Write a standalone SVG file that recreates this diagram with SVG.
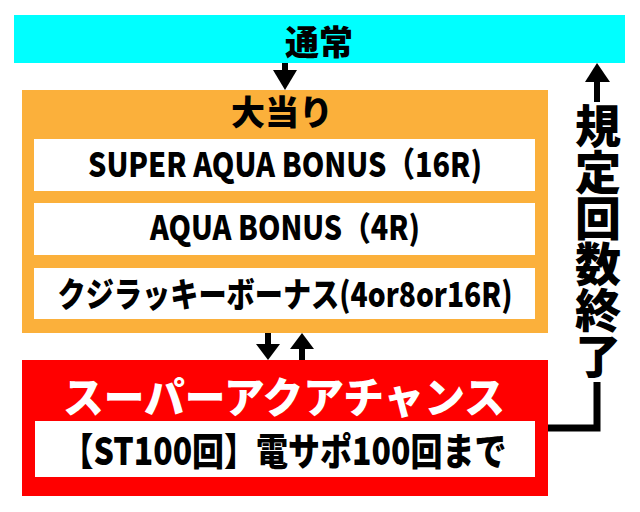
<svg xmlns="http://www.w3.org/2000/svg" width="640" height="512" viewBox="0 0 640 512">
<style>
.t{font-family:"Noto Sans CJK JP","Noto Sans",sans-serif;font-weight:900;text-anchor:middle;fill:#000}
.w{fill:#fff}
.inner{fill:#fff}
.ln{stroke:#000;stroke-width:7;fill:none}
.sh{stroke:#000;stroke-width:6;fill:none}
</style>
<rect width="640" height="512" fill="#fff"/>
<g id="normal">
<rect x="14" y="15" width="611" height="48" fill="#00FFFF"/>
<text class="t" x="319" y="55" font-size="34">通常</text>
</g>
<g id="jackpot">
<rect x="22" y="90" width="526" height="243" fill="#FBB03B"/>
<text class="t" x="282" y="125" font-size="34">大当り</text>
<rect class="inner" x="34" y="139" width="501" height="52"/>
<text class="t" x="285" y="177" font-size="34" textLength="394" lengthAdjust="spacingAndGlyphs">SUPER AQUA BONUS（16R)</text>
<rect class="inner" x="34" y="203" width="501" height="52"/>
<text class="t" x="285" y="240" font-size="33" textLength="270" lengthAdjust="spacingAndGlyphs">AQUA BONUS（4R)</text>
<rect class="inner" x="34" y="268" width="501" height="51"/>
<text class="t" x="285" y="307" font-size="34" textLength="455" lengthAdjust="spacingAndGlyphs">クジラッキーボーナス(4or8or16R)</text>
</g>
<g id="superaqua">
<rect x="22" y="360" width="526" height="136" fill="#FF0000"/>
<text class="t w" x="284" y="413" font-size="42" textLength="442" lengthAdjust="spacingAndGlyphs">スーパーアクアチャンス</text>
<rect class="inner" x="35" y="421" width="500" height="56"/>
<text class="t" x="284" y="465" font-size="38" textLength="445" lengthAdjust="spacingAndGlyphs">【ST100回】電サポ100回まで</text>
</g>
<g id="label">
<text x="598" y="103" font-size="46" writing-mode="vertical-rl" style="font-family:'Noto Sans CJK JP',sans-serif;font-weight:900;fill:#000;text-anchor:start">規定回数終了</text>
</g>
<g id="connectors">
<line class="sh" x1="285" y1="63" x2="285" y2="72"/>
<polygon points="273,70 297,70 285,90"/>
<line class="sh" x1="268" y1="333" x2="268" y2="346"/>
<polygon points="256,344 280,344 268,360"/>
<line class="sh" x1="302" y1="360" x2="302" y2="347"/>
<polygon points="290,349 314,349 302,333"/>
<polyline class="ln" points="548,428 597,428 597,382"/>
<line class="sh" x1="597" y1="102" x2="597" y2="80"/>
<polygon points="585,82 610,82 597,63"/>
</g>
</svg>
